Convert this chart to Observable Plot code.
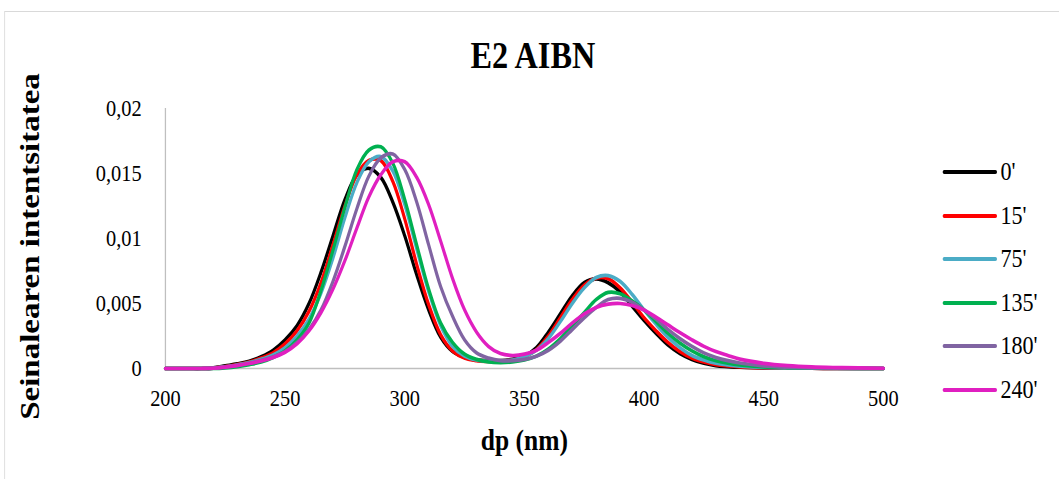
<!DOCTYPE html>
<html>
<head>
<meta charset="utf-8">
<script src="https://cdn.jsdelivr.net/npm/d3@7"></script>
<script src="https://cdn.jsdelivr.net/npm/@observablehq/plot@0.6"></script>
<style>
  html, body { margin: 0; padding: 0; background: #fff; overflow: hidden; }
  #wrap { position: absolute; left: 0; top: 0; height: 479px; transform-origin: 0 0; }
  #frame { position: absolute; border: 1px solid #d9d9d9; }
  #chart { position: absolute; left: 0; top: 0; }
  .leg { position: absolute; display: flex; align-items: center; font-family: "Liberation Serif", serif; font-size: 26px; color: #000; }
  .leg .sw { display: inline-block; height: 4px; border-radius: 2px; margin-right: 4px; }
</style>
</head>
<body>
<div id="wrap">
  <div id="frame"></div>
  <div id="chart"></div>
</div>
<script>
// ---- data ----
const titleText = "E2 AIBN";
const xLabel = "dp (nm)";
const yLabel = "Seinalearen intentsitatea";
const seriesNames = ["0'", "15'", "75'", "135'", "180'", "240'"];
const seriesColors = ["#000000", "#FF0000", "#4BACC6", "#00B050", "#8064A2", "#E01FC0"];
const xTicks = [200, 250, 300, 350, 400, 450, 500];
const yTicks = [0, 0.005, 0.01, 0.015, 0.02];
const yTickLabels = ["0", "0,005", "0,01", "0,015", "0,02"];

const dp = [200,205,210,215,220,225,230,235,240,245,250,255,260,265,270,275,280,285,290,295,300,305,310,315,320,325,330,335,340,345,350,355,360,365,370,375,380,385,390,395,400,405,410,415,420,425,430,435,440,450,460,470,480,490,500];

const s0 = [0,0,0,0,0.00005,0.0002,0.00035,0.00055,0.0009,0.0014,0.0022,0.0033,0.005,0.0074,0.0102,0.013,0.0149,0.0154,0.0147,0.0128,0.0102,0.0072,0.0045,0.0024,0.0013,0.00085,0.00065,0.0006,0.0006,0.0007,0.00095,0.0016,0.0028,0.0042,0.0056,0.0066,0.0069,0.0066,0.0059,0.0048,0.0037,0.0027,0.0018,0.00115,0.0007,0.0004,0.00022,0.00015,0.0001,0.00005,0.00003,0.00002,0.00001,0,0];
const s15 = [0,0,0,0,0.00003,0.00015,0.0003,0.0005,0.0008,0.0012,0.0019,0.0029,0.0044,0.0066,0.0095,0.0125,0.0149,0.016,0.016,0.0144,0.0115,0.008,0.0049,0.0026,0.00135,0.0008,0.0006,0.00055,0.00055,0.00065,0.0009,0.00145,0.0025,0.0039,0.0053,0.0064,0.00695,0.0069,0.0062,0.0051,0.0039,0.0029,0.002,0.0013,0.0008,0.0005,0.0003,0.0002,0.00013,0.00006,0.00003,0.00002,0.00001,0,0];
const s75 = [0,0,0,0,0.00002,0.00012,0.00027,0.00045,0.0007,0.00105,0.0016,0.0025,0.0038,0.0058,0.0085,0.0116,0.0143,0.0159,0.0163,0.0152,0.0126,0.0092,0.0059,0.0033,0.0017,0.00095,0.00065,0.00055,0.00055,0.00065,0.0009,0.0014,0.0023,0.0036,0.005,0.0062,0.007,0.00715,0.0067,0.0057,0.0045,0.0034,0.0024,0.0016,0.001,0.00065,0.0004,0.00027,0.00018,0.00008,0.00004,0.00002,0.00001,0,0];
const s135 = [0,0,0,0,0,0.00005,0.00015,0.0003,0.0005,0.00085,0.00135,0.0022,0.0035,0.006,0.0091,0.0124,0.0153,0.0168,0.01705,0.0158,0.013,0.0095,0.0061,0.0035,0.002,0.0011,0.0007,0.0005,0.00045,0.0005,0.00065,0.00095,0.0015,0.0023,0.0033,0.0043,0.0053,0.00585,0.00575,0.0052,0.0045,0.0036,0.0027,0.00195,0.00135,0.0009,0.0006,0.0004,0.00027,0.00013,0.00007,0.00004,0.00002,0.00001,0];
const s180 = [0,0,0,0,0.00003,0.00012,0.00025,0.00042,0.00062,0.0009,0.0013,0.002,0.003,0.0045,0.0067,0.0094,0.0123,0.0148,0.0162,0.0165,0.0153,0.0128,0.0095,0.0063,0.004,0.0022,0.0012,0.0008,0.0006,0.0006,0.0007,0.00095,0.0014,0.0021,0.003,0.0039,0.0047,0.0053,0.0054,0.0051,0.0045,0.0038,0.003,0.0023,0.0017,0.0012,0.00085,0.0006,0.00042,0.0002,0.0001,0.00005,0.00003,0.00001,0];
const s240 = [0,0,0,0,0.00002,0.0001,0.00022,0.00038,0.00058,0.00085,0.00125,0.0019,0.0029,0.0043,0.0061,0.0083,0.0108,0.0132,0.0149,0.0159,0.0159,0.0147,0.0126,0.0098,0.0069,0.0045,0.0028,0.0017,0.00115,0.001,0.0011,0.0014,0.002,0.0027,0.0035,0.0042,0.0047,0.00495,0.005,0.00485,0.0045,0.00395,0.00335,0.00275,0.0022,0.0017,0.0013,0.001,0.00072,0.0004,0.00022,0.00012,0.00007,0.00004,0.00002];
const seriesValues = [s0, s15, s75, s135, s180, s240];

// ---- table for Plot ----
const rows = [];
seriesNames.forEach((name, k) => {
  dp.forEach((d, i) => rows.push({series: name, dp: d, v: seriesValues[k][i]}));
});

// ---- layout (horizontal squeeze like the reference) ----
const S = 0.85;
const W = 1059 / S;
const left = 165 / S, right = 883 / S;

const wrap = document.getElementById("wrap");
wrap.style.width = W + "px";
wrap.style.transform = `scaleX(${S})`;

const frame = document.getElementById("frame");
frame.style.left = (4 / S) + "px";
frame.style.top = "11px";
frame.style.width = (W + 50) + "px";
frame.style.height = "520px";

const chart = Plot.plot({
  width: W,
  height: 479,
  marginLeft: left,
  marginRight: W - right,
  marginTop: 108,
  marginBottom: 111,
  style: {fontFamily: "Liberation Serif, serif", fontSize: "24px", color: "#000", background: "transparent", overflow: "visible"},
  x: {domain: [200, 500], ticks: xTicks, tickSize: 0, tickPadding: 20, tickFormat: d => String(d), label: null},
  y: {domain: [0, 0.02], ticks: yTicks, tickSize: 0, tickPadding: 28, tickFormat: d => yTickLabels[yTicks.indexOf(d)], label: null},
  color: {domain: seriesNames, range: seriesColors},
  marks: [
    Plot.ruleY([0], {stroke: "#bfbfbf", strokeWidth: 1.5}),
    Plot.ruleX([200], {stroke: "#bfbfbf", strokeWidth: 1.5}),
    Plot.line(rows, {x: "dp", y: "v", z: "series", stroke: "series", strokeWidth: 3.7, curve: "catmull-rom"}),
    Plot.text([titleText], {frameAnchor: "top", lineAnchor: "middle", textAnchor: "middle", dy: -53, dx: 10, fontSize: 38, fontWeight: "bold", fill: "#000"}),
    Plot.text([xLabel], {frameAnchor: "bottom", lineAnchor: "middle", textAnchor: "middle", dy: 72, fontSize: 30, fontWeight: "bold", fill: "#000"}),
    Plot.text([yLabel], {frameAnchor: "left", lineAnchor: "middle", textAnchor: "middle", rotate: -90, dx: 30 / S - left, dy: 8, fontSize: 33, fontWeight: "bold", fill: "#000"})
  ]
});
document.getElementById("chart").appendChild(chart);

// ---- legend ----
const legTop = 172, legStep = 43.6;
seriesNames.forEach((name, k) => {
  const row = document.createElement("div");
  row.className = "leg";
  row.style.left = (943 / S) + "px";
  row.style.top = (legTop + k * legStep - 15) + "px";
  row.style.height = "30px";
  const sw = document.createElement("span");
  sw.className = "sw";
  sw.style.width = (54 / S) + "px";
  sw.style.background = seriesColors[k];
  const lab = document.createElement("span");
  lab.textContent = name;
  row.appendChild(sw);
  row.appendChild(lab);
  wrap.appendChild(row);
});
</script>
</body>
</html>
